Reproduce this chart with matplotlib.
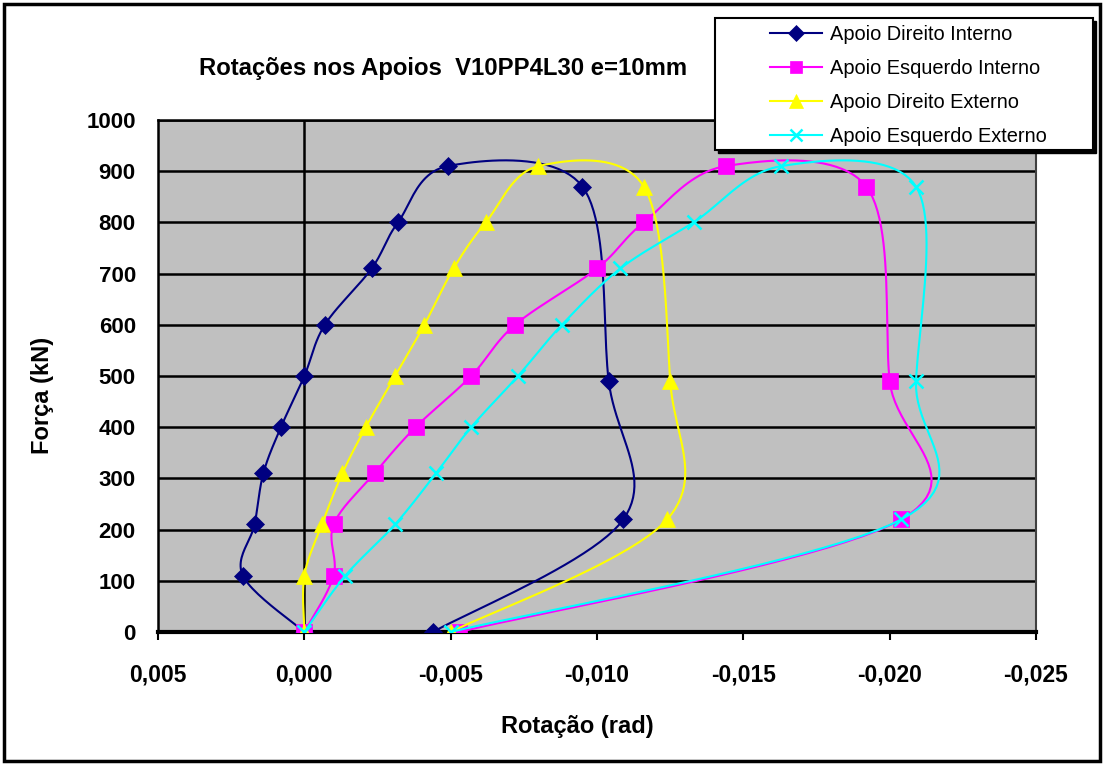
import numpy as np
import matplotlib
matplotlib.use('Agg')
import matplotlib.pyplot as plt
import matplotlib.patches as mpatches
from matplotlib.lines import Line2D
from matplotlib.ticker import FuncFormatter

plt.rcParams['font.family'] = ['Liberation Sans', 'DejaVu Sans']

# Load steps (kN), same for all four supports
forca = [0, 110, 210, 310, 400, 500, 600, 710, 800, 910, 870, 490, 220, 0]

# Rotations (rad)
rot_dir_int = [0.0, 0.0021, 0.0017, 0.0014, 0.0008, 0.0, -0.0007, -0.0023,
               -0.0032, -0.0049, -0.0095, -0.0104, -0.0109, -0.0044]
rot_esq_int = [0.0, -0.0010, -0.0010, -0.0024, -0.0038, -0.0057, -0.0072, -0.0100,
               -0.0116, -0.0144, -0.0192, -0.0200, -0.0204, -0.0053]
rot_dir_ext = [0.0, 0.0, -0.0006, -0.0013, -0.0021, -0.0031, -0.0041, -0.0051,
               -0.0062, -0.0080, -0.0116, -0.0125, -0.0124, -0.0050]
rot_esq_ext = [0.0, -0.0014, -0.0031, -0.0045, -0.0057, -0.0073, -0.0088, -0.0108,
               -0.0133, -0.0163, -0.0209, -0.0209, -0.0204, -0.0050]

series = [
    ('Apoio Direito Interno', rot_dir_int, '#000080', 'D', 9.5),
    ('Apoio Esquerdo Interno', rot_esq_int, '#FF00FF', 's', 11),
    ('Apoio Direito Externo', rot_dir_ext, '#FFFF00', '^', 11.5),
    ('Apoio Esquerdo Externo', rot_esq_ext, '#00FFFF', 'x', 9.5),
]

x_ticks = [0.005, 0.0, -0.005, -0.010, -0.015, -0.020, -0.025]
y_ticks = list(range(0, 1001, 100))


def excel_smooth(x, y, n=24):
    """Bezier smoothing like Excel's 'smoothed line' option."""
    pts = np.column_stack([x, y]).astype(float)
    out = [pts[0]]
    t = np.linspace(0, 1, n)[1:, None]
    for i in range(len(pts) - 1):
        p0 = pts[i - 1] if i > 0 else pts[i]
        p1, p2 = pts[i], pts[i + 1]
        p3 = pts[i + 2] if i + 2 < len(pts) else pts[i + 1]
        c1 = p1 + (p2 - p0) / 6
        c2 = p2 - (p3 - p1) / 6
        seg = ((1 - t) ** 3) * p1 + 3 * ((1 - t) ** 2) * t * c1 \
            + 3 * (1 - t) * t ** 2 * c2 + t ** 3 * p2
        out.extend(seg)
    out = np.array(out)
    return out[:, 0], out[:, 1]


W, H = 1104, 765
fig = plt.figure(figsize=(W / 100, H / 100), dpi=100)
ax = fig.add_axes([158 / W, 1 - 632 / H, (1036 - 158) / W, (632 - 120) / H])
ax.set_facecolor('#C0C0C0')

for k, (name, rot, color, mk, ms) in enumerate(series):
    sx, sy = excel_smooth(rot, forca)
    ax.plot(sx, sy, color=color, lw=1.5, zorder=3 + k)
    ax.plot(rot, forca, ls='none', marker=mk, color=color, markersize=ms,
            markeredgewidth=1.8 if mk == 'x' else 0.5, zorder=3 + k)

ax.set_xlim(0.005, -0.025)
ax.set_ylim(0, 1000)
ax.set_xticks(x_ticks)
ax.set_yticks(y_ticks)


def fmt(v, pos):
    s = f"{v:.3f}".replace('.', ',')
    return '0,000' if s == '-0,000' else s


ax.xaxis.set_major_formatter(FuncFormatter(fmt))
ax.tick_params(axis='x', length=6, width=1.5, direction='out', pad=17,
               labelsize=16.5)
ax.tick_params(axis='y', length=0, pad=16, labelsize=16)
for lab in ax.get_xticklabels() + ax.get_yticklabels():
    lab.set_fontweight('bold')

ax.yaxis.grid(True, color='black', lw=1.8, zorder=1)
ax.set_axisbelow(True)
ax.axvline(0, color='black', lw=1.8, zorder=2)
ax.spines['bottom'].set_linewidth(3)
ax.spines['left'].set_linewidth(1.8)
ax.spines['top'].set_linewidth(1.8)
ax.spines['right'].set_color('#404040')
ax.spines['right'].set_linewidth(1.5)

fig.text(443 / W, 1 - 68 / H, 'Rotações nos Apoios  V10PP4L30 e=10mm',
         ha='center', va='center', fontsize=17.2, fontweight='bold')
fig.text(577 / W, 1 - 726 / H, 'Rotação (rad)', ha='center', va='center',
         fontsize=17, fontweight='bold')
fig.text(42 / W, 1 - 395 / H, 'Força (kN)', ha='center', va='center',
         fontsize=17, fontweight='bold', rotation=90)

# legend box with black drop shadow
shadow = mpatches.Rectangle((718 / W, 1 - 153 / H), (1093 - 715) / W,
                            (150 - 18) / H, transform=fig.transFigure,
                            facecolor='black', edgecolor='black', zorder=20)
box = mpatches.Rectangle((715 / W, 1 - 150 / H), (1093 - 715) / W,
                         (150 - 18) / H, transform=fig.transFigure,
                         facecolor='white', edgecolor='black', lw=1.5, zorder=21)
fig.add_artist(shadow)
fig.add_artist(box)

handles = [Line2D([], [], color=c, lw=1.5, marker=m,
                  markersize=ms * 0.85, markeredgewidth=1.8 if m == 'x' else 0.5)
           for _, _, c, m, ms in series]
leg = fig.legend(handles, [s[0] for s in series], loc='upper left',
                 bbox_to_anchor=(770 / W, 1 - 25 / H), frameon=False,
                 fontsize=14.4, handlelength=2.6, handletextpad=0.4,
                 labelspacing=0.75, borderpad=0, borderaxespad=0)
leg.set_zorder(22)

# outer chart border
fig.add_artist(mpatches.Rectangle((4 / W, 4 / H), (W - 8) / W, (H - 8) / H,
                                  transform=fig.transFigure, fill=False,
                                  edgecolor='black', lw=2.5, zorder=30))

fig.savefig('out.png', dpi=100, facecolor='white')
